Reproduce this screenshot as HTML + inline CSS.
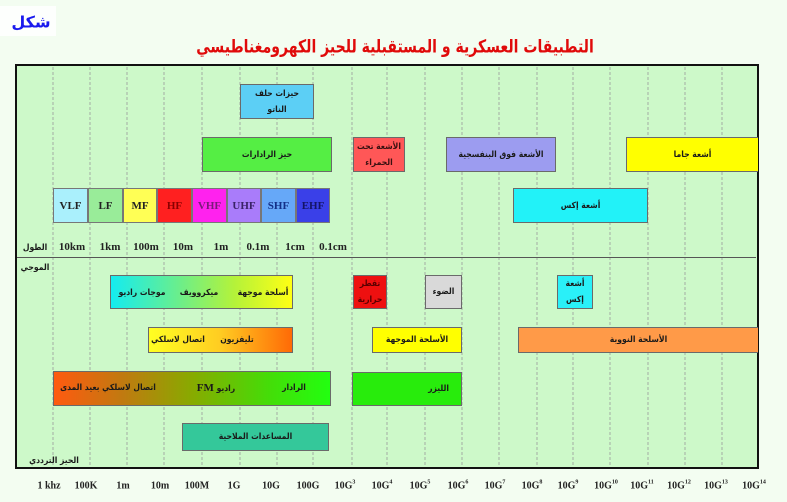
<!DOCTYPE html>
<html>
<head>
<meta charset="utf-8">
<style>
html,body{margin:0;padding:0;}
body{width:787px;height:502px;background:#f3fdf1;position:relative;overflow:hidden;font-family:"DejaVu Sans Condensed","DejaVu Sans","Liberation Sans",sans-serif;}
.abs{position:absolute;}
.frame{position:absolute;left:15px;top:64px;width:740px;height:401px;border:2px solid #111;background:#cdf9c9;}
.box{position:absolute;box-sizing:border-box;border:1px solid #6a6a6a;display:flex;align-items:center;justify-content:center;text-align:center;direction:rtl;font-size:8.5px;font-weight:bold;color:#1a1a1a;line-height:16px;}
.t{position:absolute;transform:translate(-50%,-50%);white-space:nowrap;font-size:8.5px;font-weight:bold;color:#1a1a1a;direction:rtl;}
.band{position:absolute;top:188px;height:35px;box-sizing:border-box;border:1px solid #777;display:flex;align-items:center;justify-content:center;font-family:"Liberation Serif",serif;font-weight:bold;font-size:11px;}
.wl{position:absolute;top:247px;transform:translate(-50%,-50%);font-family:"Liberation Serif",serif;font-weight:bold;font-size:11px;color:#222;white-space:nowrap;}
.fx{position:absolute;top:486px;transform:translate(-50%,-50%);font-family:"Liberation Serif",serif;font-weight:bold;font-size:10px;color:#222;white-space:nowrap;}
.fx sup{font-size:6px;vertical-align:5px;line-height:0;}
</style>
</head>
<body>
<div class="abs" style="left:0;top:6px;width:56px;height:30px;background:#fdfffd;"></div>
<div class="t" style="left:31px;top:22px;font-size:16px;color:#1a1aee;font-family:'DejaVu Sans',sans-serif;">شكل</div>
<div class="t" style="left:395px;top:47px;font-size:18px;color:#e00a0a;font-family:'DejaVu Sans',sans-serif;transform:translate(-50%,-50%) scaleX(0.78);">التطبيقات العسكرية و المستقبلية للحيز الكهرومغناطيسي</div>

<div class="frame"></div>
<svg class="abs" style="left:0;top:0" width="787" height="502">
<g stroke="#9a9a9a" stroke-width="0.8" stroke-dasharray="3,2">
<line x1="53" y1="67" x2="53" y2="465"/>
<line x1="90" y1="67" x2="90" y2="465"/>
<line x1="127" y1="67" x2="127" y2="465"/>
<line x1="164" y1="67" x2="164" y2="465"/>
<line x1="202" y1="67" x2="202" y2="465"/>
<line x1="240" y1="67" x2="240" y2="465"/>
<line x1="277" y1="67" x2="277" y2="465"/>
<line x1="313" y1="67" x2="313" y2="465"/>
<line x1="352" y1="67" x2="352" y2="465"/>
<line x1="387" y1="67" x2="387" y2="465"/>
<line x1="425" y1="67" x2="425" y2="465"/>
<line x1="462" y1="67" x2="462" y2="465"/>
<line x1="499" y1="67" x2="499" y2="465"/>
<line x1="537" y1="67" x2="537" y2="465"/>
<line x1="573" y1="67" x2="573" y2="465"/>
<line x1="610" y1="67" x2="610" y2="465"/>
<line x1="648" y1="67" x2="648" y2="465"/>
<line x1="685" y1="67" x2="685" y2="465"/>
<line x1="722" y1="67" x2="722" y2="465"/>
</g>
<line x1="17" y1="257.5" x2="756" y2="257.5" stroke="#555" stroke-width="1"/>
</svg>

<!-- top row -->
<div class="box" style="left:240px;top:84px;width:74px;height:35px;background:#5ccff5;">حيزات حلف<br>الناتو</div>
<div class="box" style="left:202px;top:137px;width:130px;height:35px;background:#55ee44;">حيز الرادارات</div>
<div class="box" style="left:353px;top:137px;width:52px;height:35px;background:#ff5757;color:#3a1111;">الأشعة تحت<br>الحمراء</div>
<div class="box" style="left:446px;top:137px;width:110px;height:35px;background:#9c9cf0;">الأشعة فوق البنفسجية</div>
<div class="box" style="left:626px;top:137px;width:132px;height:35px;background:#ffff00;border-right:none;">أشعة جاما</div>

<!-- bands -->
<div class="band" style="left:53px;width:35px;background:#aaf0fc;color:#222;">VLF</div>
<div class="band" style="left:88px;width:35px;background:#99ec99;color:#222;">LF</div>
<div class="band" style="left:123px;width:34px;background:#ffff55;color:#222;">MF</div>
<div class="band" style="left:157px;width:35px;background:#ff2020;color:#8a0000;">HF</div>
<div class="band" style="left:192px;width:35px;background:#ff22ee;color:#7a1a7a;">VHF</div>
<div class="band" style="left:227px;width:34px;background:#a97cfa;color:#3a2266;">UHF</div>
<div class="band" style="left:261px;width:35px;background:#66a8f8;color:#132f88;">SHF</div>
<div class="band" style="left:296px;width:34px;background:#3a40e8;color:#141466;">EHF</div>
<div class="box" style="left:513px;top:188px;width:135px;height:35px;background:#22f2f8;">أشعة إكس</div>

<!-- wavelengths -->
<div class="wl" style="left:72px;">10km</div>
<div class="wl" style="left:110px;">1km</div>
<div class="wl" style="left:146px;">100m</div>
<div class="wl" style="left:183px;">10m</div>
<div class="wl" style="left:221px;">1m</div>
<div class="wl" style="left:258px;">0.1m</div>
<div class="wl" style="left:295px;">1cm</div>
<div class="wl" style="left:333px;">0.1cm</div>
<div class="t" style="left:35px;top:248px;">الطول</div>
<div class="t" style="left:35px;top:268px;">الموجي</div>

<!-- second section -->
<div class="box" style="left:110px;top:275px;width:183px;height:34px;background:linear-gradient(to right,#14ecf0,#6cee8a 38%,#b4f23a 68%,#ffff14);"></div>
<div class="t" style="left:142px;top:293px;">موجات راديو</div>
<div class="t" style="left:199px;top:293px;">ميكروويف</div>
<div class="t" style="left:263px;top:293px;">أسلحة موجهة</div>

<div class="box" style="left:353px;top:275px;width:34px;height:34px;background:#ee1010;color:#5a0000;">تقطر<br>حرارية</div>
<div class="box" style="left:425px;top:275px;width:37px;height:34px;background:#d9d9d9;">الضوء</div>
<div class="box" style="left:557px;top:275px;width:36px;height:34px;background:#2af0f8;">أشعة<br>إكس</div>

<div class="box" style="left:148px;top:327px;width:145px;height:26px;background:linear-gradient(to right,#ffff22,#ffcc22 50%,#ff6a06);"></div>
<div class="t" style="left:178px;top:340px;">اتصال لاسلكي</div>
<div class="t" style="left:237px;top:340px;">تليفزيون</div>

<div class="box" style="left:372px;top:327px;width:90px;height:26px;background:#ffff00;">الأسلحة الموجهة</div>
<div class="box" style="left:518px;top:327px;width:240px;height:26px;background:#ff9a48;border-right:none;">الأسلحة النووية</div>

<div class="box" style="left:53px;top:371px;width:278px;height:35px;background:linear-gradient(to right,#ff5a10,#c07a10 25%,#88aa00 50%,#44dd08 78%,#22ff10);"></div>
<div class="t" style="left:108px;top:388px;">اتصال لاسلكي بعيد المدى</div>
<div class="t" style="left:216px;top:388px;">راديو <span style="font-family:'Liberation Serif',serif;font-size:11px;">FM</span></div>
<div class="t" style="left:294px;top:388px;">الرادار</div>

<div class="box" style="left:352px;top:372px;width:110px;height:34px;background:#28ec0c;justify-content:flex-start;padding-right:12px;">الليزر</div>

<div class="box" style="left:182px;top:423px;width:147px;height:28px;background:#34c89a;">المساعدات الملاحية</div>
<div class="t" style="left:54px;top:461px;">الحيز الترددي</div>

<!-- frequency axis -->
<div class="fx" style="left:49px;">1 khz</div>
<div class="fx" style="left:86px;">100K</div>
<div class="fx" style="left:123px;">1m</div>
<div class="fx" style="left:160px;">10m</div>
<div class="fx" style="left:197px;">100M</div>
<div class="fx" style="left:234px;">1G</div>
<div class="fx" style="left:271px;">10G</div>
<div class="fx" style="left:308px;">100G</div>
<div class="fx" style="left:345px;">10G<sup>3</sup></div>
<div class="fx" style="left:382px;">10G<sup>4</sup></div>
<div class="fx" style="left:420px;">10G<sup>5</sup></div>
<div class="fx" style="left:458px;">10G<sup>6</sup></div>
<div class="fx" style="left:495px;">10G<sup>7</sup></div>
<div class="fx" style="left:532px;">10G<sup>8</sup></div>
<div class="fx" style="left:568px;">10G<sup>9</sup></div>
<div class="fx" style="left:606px;">10G<sup>10</sup></div>
<div class="fx" style="left:642px;">10G<sup>11</sup></div>
<div class="fx" style="left:679px;">10G<sup>12</sup></div>
<div class="fx" style="left:716px;">10G<sup>13</sup></div>
<div class="fx" style="left:754px;">10G<sup>14</sup></div>
</body>
</html>
